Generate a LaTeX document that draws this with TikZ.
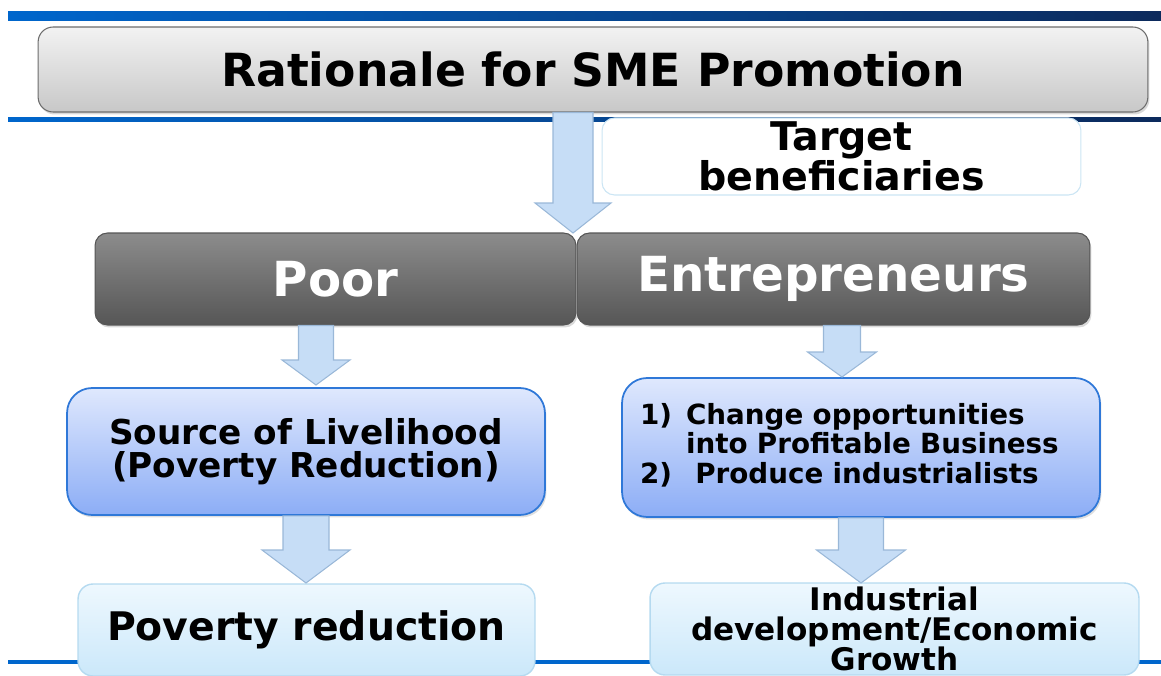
\documentclass[tikz,border=0pt]{standalone}
\usepackage{fontspec}
\setmainfont{DejaVu Sans}
\usetikzlibrary{positioning,calc,shadows}

\definecolor{barblue}{RGB}{0,102,204}
\definecolor{barnavy}{RGB}{12,42,92}
\definecolor{greytop}{HTML}{F2F2F2}
\definecolor{greybot}{HTML}{C8C8C8}
\definecolor{darktop}{HTML}{8C8C8C}
\definecolor{darkbot}{HTML}{565656}
\definecolor{bluetop}{HTML}{DFE8FD}
\definecolor{bluebot}{HTML}{8CADF6}
\definecolor{blueline}{HTML}{2F78D8}
\definecolor{palettop}{HTML}{EEF8FE}
\definecolor{palebot}{HTML}{CBE8FA}
\definecolor{paleline}{HTML}{B5DAF0}
\definecolor{arrfill}{HTML}{C6DDF6}
\definecolor{arrline}{HTML}{9AB8D8}

% start, tip, shaft half width, head half width, head length
\newcommand{\fatarrow}[5]{%
  \draw[blockarr] ($(#1)+(-#3,0)$) -- ($(#2)+(-#3,-#5)$) -- ($(#2)+(-#4,-#5)$) -- (#2)
    -- ($(#2)+(#4,-#5)$) -- ($(#2)+(#3,-#5)$) -- ($(#1)+(#3,0)$) -- cycle;}

\begin{document}
\begin{tikzpicture}[x=0.02cm, y=-0.02cm,
	every node/.style={align=center, inner sep=0pt},
	titlebox/.style={draw=gray!85!black, line width=0.6pt, rounded corners=0.3cm,
		top color=greytop, bottom color=greybot,
		drop shadow={opacity=0.3, shadow xshift=0.03cm, shadow yshift=-0.05cm}},
	tagbox/.style={draw=paleline!70, line width=0.6pt, rounded corners=0.25cm, fill=white},
	darkbox/.style={draw=darkbot, line width=0.6pt, rounded corners=0.25cm,
		top color=darktop, bottom color=darkbot, text=white,
		drop shadow={opacity=0.3, shadow xshift=0.03cm, shadow yshift=-0.05cm}},
	bluebox/.style={draw=blueline, line width=1pt, rounded corners=0.5cm,
		top color=bluetop, bottom color=bluebot,
		drop shadow={opacity=0.25, shadow xshift=0.03cm, shadow yshift=-0.05cm}},
	palebox/.style={draw=paleline, line width=0.8pt, rounded corners=0.3cm,
		top color=palettop, bottom color=palebot},
	blockarr/.style={draw=arrline, line width=0.6pt, fill=arrfill}]

	\useasboundingbox (0,0) rectangle (1161,676);
	\clip (0,0) rectangle (1161,676);

	% rules of the slide
	\fill[left color=barblue, right color=barnavy] (8,11) rectangle (1161,20);
	\fill[left color=barblue, right color=barnavy] (8,117) rectangle (1161,121);
	\fill[barblue] (8,660) rectangle (1161,664);

	\node[titlebox, minimum width=22.2cm, minimum height=1.7cm,
		font=\bfseries\fontsize{26}{28}\selectfont] (title) at (593,69.5) {Rationale for SME Promotion};
	\node[tagbox, minimum width=9.58cm, minimum height=1.54cm,
		font=\bfseries\fontsize{22.5}{22.8}\selectfont] (target) at (841.5,156.5) {Target\\beneficiaries};

	\node[darkbox, minimum width=9.62cm, minimum height=1.84cm,
		font=\bfseries\fontsize{27.5}{30}\selectfont] (poor) at (335.5,279) {Poor};
	\node[darkbox, minimum width=10.26cm, minimum height=1.84cm,
		font=\bfseries\fontsize{27.5}{30}\selectfont] (entre) at (833.5,279) {Entrepreneurs};

	\node[bluebox, minimum width=9.56cm, minimum height=2.54cm,
		font=\bfseries\fontsize{19.5}{18.8}\selectfont] (source) at (306,451.5) {Source of Livelihood\\(Poverty Reduction)};
	\node[bluebox, text width=8.84cm, inner xsep=0.36cm, minimum height=2.78cm, align=left,
		font=\bfseries\fontsize{15.8}{16}\selectfont] (change) at (861,447.5)
		{\begin{tabular}{@{}l@{\hspace{8pt}}l@{}}1) & Change opportunities\\ & into Profitable Business\\ 2) & \ Produce industrialists\end{tabular}};

	\node[palebox, minimum width=9.14cm, minimum height=1.84cm,
		font=\bfseries\fontsize{22.4}{24}\selectfont] (povred) at (306.5,630) {Poverty reduction};
	\node[palebox, minimum width=9.78cm, minimum height=1.84cm,
		font=\bfseries\fontsize{17.7}{17.2}\selectfont] (industry) at (894.5,629) {Industrial\\development/Economic\\Growth};

	\coordinate (tipa) at (573,233);
	\coordinate (tipb) at (316,385);
	\coordinate (tipc) at (306,583);
	\coordinate (tipd) at (842,377);
	\coordinate (tipe) at (861,583);

	\fatarrow{title.south -| tipa}{tipa}{20}{38}{30}
	\fatarrow{poor.south -| tipb}{tipb}{17.5}{34}{25}
	\fatarrow{source.south -| tipc}{tipc}{23}{44}{33}
	\fatarrow{entre.south -| tipd}{tipd}{18.5}{34.5}{25}
	\fatarrow{change.south -| tipe}{tipe}{22.5}{44.5}{33}

\end{tikzpicture}
\end{document}
